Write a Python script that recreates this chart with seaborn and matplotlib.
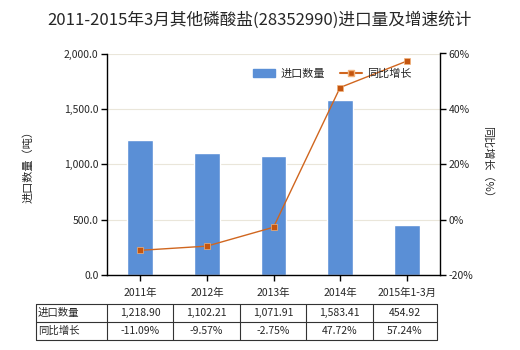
import matplotlib
matplotlib.use("Agg")
import matplotlib.pyplot as plt
import seaborn as sns
import pandas as pd
from matplotlib.lines import Line2D
from matplotlib.patches import Patch
from matplotlib.ticker import FuncFormatter

categories = ["2011年", "2012年", "2013年", "2014年", "2015年1-3月"]
import_qty = [1218.90, 1102.21, 1071.91, 1583.41, 454.92]
growth = [-11.09, -9.57, -2.75, 47.72, 57.24]
qty_labels = ["1,218.90", "1,102.21", "1,071.91", "1,583.41", "454.92"]
growth_labels = ["-11.09%", "-9.57%", "-2.75%", "47.72%", "57.24%"]

sns.set_theme(style="white")
plt.rcParams['font.family'] = ['Noto Sans CJK SC', 'DejaVu Sans']
plt.rcParams['axes.unicode_minus'] = False

bar_color = "#5A8FD6"
line_color = "#D0661F"
marker_color = "#C4550F"

df = pd.DataFrame({"cat": categories, "qty": import_qty, "g": growth})

fig = plt.figure(figsize=(5.2, 3.5), dpi=100)
ax = fig.add_axes([107/520, 1-275/350, (440-107)/520, (275-53.5)/350])

sns.barplot(data=df, x="cat", y="qty", color=bar_color, width=0.39, ax=ax, saturation=1)
ax.set_ylim(0, 2000)
ax.set_yticks([0, 500, 1000, 1500, 2000])
ax.yaxis.set_major_formatter(FuncFormatter(lambda v, p: f"{v:,.1f}"))
ax.grid(axis="y", color="#EAE6DA", linewidth=0.8)
ax.set_axisbelow(True)
ax.set_xlabel("")
ax.set_ylabel("进口数量（吨）", fontsize=8, labelpad=22)
for s in ["top", "right"]:
    ax.spines[s].set_visible(False)
for s in ["left", "bottom"]:
    ax.spines[s].set_color("black")
    ax.spines[s].set_linewidth(1)
ax.tick_params(axis="both", which="both", length=4, width=1, color="black", labelsize=7.5, direction="out", left=True, bottom=True, pad=2)
ax.tick_params(axis="x", pad=5)

ax2 = ax.twinx()
sns.pointplot(data=df, x="cat", y="g", color=line_color, markers="s", markersize=4.5,
              linewidth=1, ax=ax2, markeredgecolor="#F2B27A", markeredgewidth=0.5)
for ln in ax2.lines:
    ln.set_color(line_color)
    ln.set_markerfacecolor(marker_color)
ax2.set_ylim(-20, 60)
ax2.set_yticks([-20, 0, 20, 40, 60])
ax2.yaxis.set_major_formatter(FuncFormatter(lambda v, p: f"{v:.0f}%"))
ax2.set_ylabel("同比增长（%）", fontsize=8, rotation=-90, labelpad=14)
ax2.set_xlabel("")
for s in ["top", "left", "bottom"]:
    ax2.spines[s].set_visible(False)
ax2.spines["right"].set_color("black")
ax2.spines["right"].set_linewidth(1)
ax2.tick_params(axis="y", length=4, width=1, color="black", labelsize=7.5, direction="out", right=True, pad=2)
ax2.grid(False)

handles = [Patch(color=bar_color, label="进口数量"),
           Line2D([0], [0], color=line_color, marker="s", markersize=4.5, linewidth=1.5,
                  markerfacecolor=marker_color, markeredgecolor="#F2B27A", label="同比增长")]
ax2.legend(handles=handles, loc="center left", bbox_to_anchor=((243-107)/333, (275-74)/221.5),
           ncol=2, frameon=False, fontsize=8, handlelength=2.0, columnspacing=1.35,
           handletextpad=0.45, borderpad=0.4)

fig.text(0.5, 1-20.5/350, "2011-2015年3月其他磷酸盐(28352990)进口量及增速统计", ha="center", va="center", fontsize=12)

# table
col_x = [36, 107, 173, 240, 306, 373, 437]
row_y = [304, 322, 340]
tax = fig.add_axes([0, 0, 1, 1], facecolor="none")
tax.set_xlim(0, 520)
tax.set_ylim(350, 0)
tax.axis("off")
for x in col_x:
    tax.plot([x, x], [row_y[0], row_y[-1]], color="#333333", lw=0.8)
for y in row_y:
    tax.plot([col_x[0], col_x[-1]], [y, y], color="#333333", lw=0.8)
rows = [("进口数量", qty_labels), ("同比增长", growth_labels)]
for r, (name, vals) in enumerate(rows):
    yc = (row_y[r] + row_y[r+1]) / 2
    tax.text(col_x[0] + 2, yc, name, ha="left", va="center", fontsize=7.5)
    for i, v in enumerate(vals):
        tax.text((col_x[i+1] + col_x[i+2]) / 2, yc, v, ha="center", va="center", fontsize=7.5)

fig.savefig("out.png", dpi=100)
